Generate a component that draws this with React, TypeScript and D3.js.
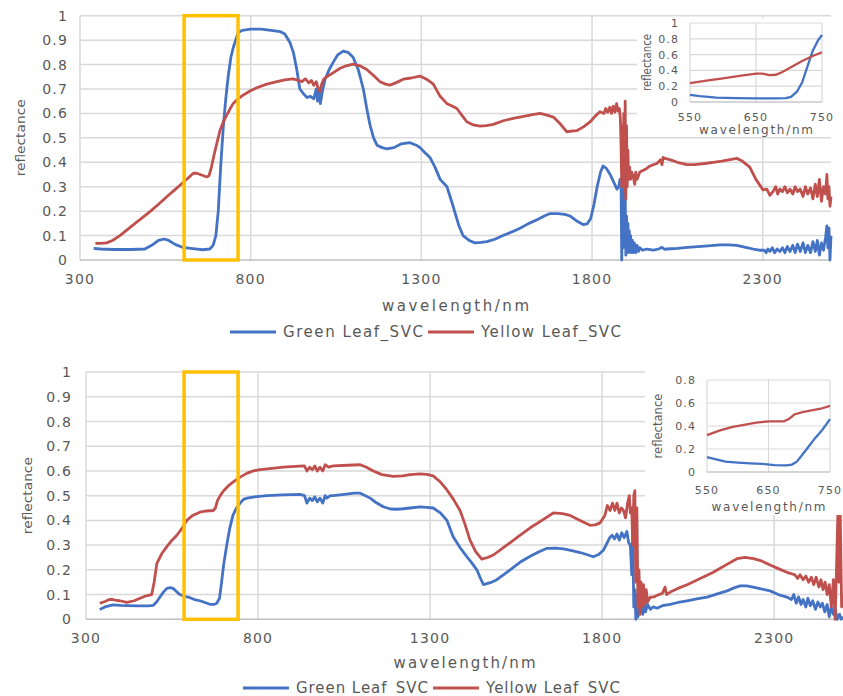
import React, { useEffect, useRef } from "react";
import * as d3 from "d3";

type Pt = [number, number];

// ---- data: [wavelength nm, reflectance] ----
const topGreen: Pt[] = [
  [340,0.048],[360,0.045],[400,0.043],[450,0.043],[490,0.045],[510,0.06],[530,0.08],[546,0.086],[560,0.08],[580,0.063],
  [600,0.052],[630,0.047],[660,0.042],[680,0.045],[690,0.06],[698,0.1],[705,0.2],[712,0.38],[720,0.55],[727,0.66],
  [734,0.75],[742,0.83],[749,0.87],[756,0.9],[763,0.93],[775,0.94],[800,0.945],[830,0.945],[860,0.94],[886,0.935],
  [900,0.925],[915,0.89],[925,0.85],[935,0.78],[944,0.7],[955,0.68],[965,0.665],[975,0.67],[985,0.66],[992,0.7],
  [996,0.65],[1000,0.7],[1004,0.64],[1010,0.69],[1018,0.74],[1030,0.78],[1042,0.81],[1055,0.84],[1071,0.855],[1085,0.85],
  [1100,0.83],[1115,0.78],[1130,0.7],[1140,0.62],[1150,0.55],[1160,0.5],[1170,0.47],[1185,0.46],[1199,0.455],[1220,0.46],
  [1240,0.475],[1267,0.48],[1285,0.47],[1296,0.46],[1310,0.44],[1325,0.42],[1340,0.38],[1355,0.33],[1375,0.3],[1393,0.22],
  [1410,0.14],[1422,0.1],[1440,0.08],[1457,0.07],[1475,0.072],[1492,0.075],[1515,0.085],[1539,0.1],[1565,0.115],[1589,0.13],
  [1615,0.15],[1639,0.165],[1660,0.18],[1677,0.19],[1700,0.19],[1720,0.187],[1736,0.18],[1755,0.16],[1774,0.145],[1786,0.148],
  [1796,0.17],[1806,0.23],[1815,0.3],[1825,0.36],[1832,0.385],[1842,0.375],[1853,0.35],[1863,0.32],[1873,0.29],[1878,0.3],
  [1882,0.33],[1885,0.31],[1887,0.0],[1889,0.2],[1891,0.05],[1893,0.35],[1895,0.1],[1897,0.28],[1899,0.02],[1901,0.18],
  [1903,0.04],[1905,0.15],[1907,0.03],[1909,0.12],[1911,0.04],[1913,0.1],[1915,0.03],[1918,0.08],[1921,0.03],[1924,0.07],
  [1928,0.03],[1932,0.06],[1936,0.035],[1940,0.05],[1948,0.04],[1960,0.045],[1980,0.04],[1995,0.045],[2005,0.052],[2012,0.044],
  [2030,0.046],[2050,0.048],[2080,0.052],[2110,0.055],[2140,0.058],[2175,0.062],[2200,0.062],[2224,0.06],[2250,0.052],[2272,0.045],
  [2290,0.04],[2305,0.04],[2310,0.03],[2315,0.045],[2321,0.035],[2328,0.05],[2335,0.03],[2342,0.045],[2350,0.035],[2358,0.05],
  [2365,0.03],[2372,0.055],[2380,0.035],[2388,0.06],[2395,0.03],[2402,0.065],[2410,0.035],[2418,0.07],[2425,0.03],[2432,0.06],
  [2440,0.03],[2447,0.075],[2454,0.035],[2460,0.08],[2466,0.02],[2472,0.07],[2478,0.04],[2484,0.09],[2488,0.14],[2491,0.05],
  [2494,0.13],[2497,0.0],[2500,0.1],
];

const topYellow: Pt[] = [
  [345,0.068],[360,0.068],[378,0.07],[395,0.08],[417,0.1],[435,0.12],[455,0.143],[480,0.17],[505,0.198],[530,0.228],
  [555,0.26],[580,0.29],[602,0.317],[620,0.34],[632,0.355],[642,0.355],[652,0.35],[662,0.345],[671,0.34],[678,0.345],
  [685,0.38],[696,0.45],[703,0.49],[710,0.53],[720,0.565],[730,0.593],[740,0.62],[749,0.641],[763,0.66],[778,0.675],
  [798,0.692],[818,0.705],[847,0.72],[877,0.73],[900,0.737],[924,0.741],[940,0.735],[950,0.73],[960,0.742],[970,0.725],
  [978,0.735],[985,0.715],[992,0.73],[998,0.7],[1003,0.69],[1008,0.72],[1014,0.74],[1023,0.75],[1040,0.765],[1062,0.785],
  [1080,0.795],[1100,0.802],[1120,0.795],[1140,0.78],[1160,0.755],[1179,0.73],[1195,0.72],[1208,0.716],[1225,0.725],[1247,0.74],
  [1270,0.745],[1296,0.753],[1315,0.74],[1335,0.72],[1355,0.67],[1375,0.64],[1390,0.63],[1404,0.62],[1420,0.59],[1433,0.566],
  [1452,0.553],[1472,0.548],[1490,0.55],[1511,0.555],[1540,0.57],[1569,0.58],[1600,0.588],[1625,0.595],[1648,0.6],[1668,0.593],
  [1687,0.585],[1705,0.56],[1726,0.525],[1740,0.528],[1756,0.53],[1775,0.545],[1794,0.565],[1810,0.59],[1823,0.607],[1835,0.6],
  [1840,0.62],[1846,0.605],[1852,0.625],[1857,0.6],[1862,0.63],[1867,0.605],[1872,0.64],[1876,0.61],[1880,0.62],[1883,0.58],
  [1885,0.47],[1887,0.3],[1889,0.55],[1891,0.33],[1893,0.6],[1895,0.28],[1897,0.65],[1899,0.25],[1901,0.55],[1903,0.3],
  [1905,0.45],[1907,0.33],[1910,0.38],[1913,0.33],[1916,0.36],[1921,0.34],[1925,0.31],[1928,0.36],[1932,0.33],[1940,0.36],
  [1955,0.37],[1970,0.385],[1979,0.39],[1990,0.395],[2000,0.41],[2005,0.39],[2008,0.42],[2013,0.416],[2030,0.41],[2050,0.4],
  [2078,0.39],[2100,0.39],[2130,0.395],[2155,0.4],[2180,0.405],[2200,0.41],[2224,0.416],[2240,0.405],[2262,0.38],[2280,0.33],
  [2301,0.287],[2312,0.29],[2321,0.265],[2330,0.28],[2338,0.3],[2344,0.27],[2350,0.29],[2358,0.28],[2365,0.3],[2372,0.275],
  [2380,0.29],[2388,0.27],[2395,0.3],[2402,0.28],[2410,0.29],[2418,0.26],[2425,0.3],[2432,0.27],[2440,0.295],[2447,0.25],
  [2454,0.31],[2460,0.26],[2466,0.33],[2472,0.24],[2478,0.3],[2484,0.27],[2488,0.35],[2491,0.25],[2494,0.3],[2497,0.22],
  [2500,0.26],
];

const bottomGreen: Pt[] = [
  [340,0.04],[355,0.05],[378,0.058],[400,0.056],[419,0.055],[450,0.054],[480,0.054],[495,0.056],[505,0.07],[515,0.09],
  [525,0.11],[535,0.125],[545,0.128],[553,0.125],[563,0.112],[573,0.1],[585,0.093],[597,0.09],[615,0.08],[631,0.075],
  [650,0.066],[662,0.06],[672,0.06],[680,0.065],[688,0.085],[694,0.15],[700,0.22],[709,0.3],[718,0.37],[727,0.42],
  [737,0.45],[748,0.47],[758,0.485],[768,0.49],[790,0.495],[826,0.5],[870,0.503],[922,0.505],[935,0.5],[942,0.47],
  [950,0.49],[958,0.48],[965,0.495],[972,0.475],[980,0.49],[988,0.47],[995,0.5],[1000,0.49],[1010,0.5],[1019,0.5],
  [1050,0.505],[1080,0.51],[1097,0.51],[1112,0.5],[1126,0.49],[1145,0.47],[1164,0.455],[1185,0.446],[1203,0.445],[1222,0.447],
  [1242,0.45],[1271,0.455],[1290,0.453],[1309,0.45],[1330,0.43],[1349,0.4],[1367,0.334],[1387,0.29],[1407,0.253],[1420,0.23],
  [1436,0.2],[1445,0.17],[1455,0.14],[1475,0.148],[1494,0.16],[1518,0.185],[1542,0.21],[1566,0.235],[1591,0.255],[1615,0.272],
  [1640,0.287],[1665,0.288],[1688,0.285],[1712,0.278],[1736,0.27],[1755,0.262],[1774,0.253],[1790,0.262],[1804,0.28],[1815,0.31],
  [1822,0.33],[1829,0.34],[1836,0.325],[1843,0.345],[1850,0.32],[1857,0.35],[1864,0.33],[1872,0.355],[1877,0.31],[1882,0.3],
  [1886,0.18],[1889,0.35],[1892,0.05],[1895,0.12],[1898,0.0],[1901,0.1],[1904,0.01],[1907,0.08],[1910,0.03],[1914,0.09],
  [1918,0.02],[1922,0.07],[1926,0.03],[1932,0.06],[1940,0.04],[1948,0.05],[1960,0.045],[1975,0.055],[1998,0.06],[2020,0.068],
  [2047,0.075],[2075,0.083],[2105,0.09],[2135,0.103],[2163,0.115],[2185,0.128],[2201,0.135],[2220,0.135],[2239,0.13],[2265,0.122],
  [2288,0.115],[2312,0.1],[2337,0.09],[2350,0.08],[2357,0.1],[2364,0.065],[2371,0.09],[2378,0.06],[2384,0.08],[2392,0.05],
  [2398,0.085],[2405,0.055],[2412,0.075],[2420,0.04],[2427,0.07],[2434,0.05],[2440,0.065],[2447,0.03],[2454,0.06],[2460,0.01],
  [2466,0.05],[2472,0.02],[2478,0.04],[2483,0.0],[2490,0.02],[2495,0.0],[2500,0.01],
];

const bottomYellow: Pt[] = [
  [340,0.065],[355,0.072],[368,0.08],[378,0.08],[390,0.076],[398,0.075],[419,0.068],[440,0.075],[457,0.085],[475,0.095],
  [491,0.1],[498,0.15],[506,0.226],[520,0.265],[535,0.294],[550,0.32],[564,0.34],[580,0.37],[593,0.4],[610,0.42],
  [631,0.433],[650,0.438],[670,0.44],[676,0.45],[682,0.48],[690,0.5],[700,0.52],[714,0.54],[728,0.556],[748,0.575],
  [767,0.59],[786,0.6],[806,0.605],[840,0.61],[874,0.615],[908,0.618],[935,0.62],[942,0.6],[950,0.615],[958,0.605],
  [965,0.62],[972,0.6],[980,0.615],[988,0.6],[995,0.625],[1005,0.615],[1019,0.62],[1060,0.623],[1097,0.625],[1115,0.615],
  [1135,0.6],[1160,0.585],[1193,0.578],[1220,0.58],[1242,0.585],[1271,0.588],[1290,0.586],[1309,0.58],[1330,0.555],[1349,0.523],
  [1368,0.485],[1387,0.44],[1400,0.39],[1416,0.32],[1432,0.275],[1450,0.243],[1467,0.25],[1484,0.26],[1508,0.285],[1533,0.31],
  [1562,0.34],[1591,0.37],[1625,0.4],[1658,0.43],[1685,0.427],[1707,0.42],[1736,0.4],[1765,0.38],[1780,0.382],[1794,0.39],
  [1808,0.42],[1815,0.46],[1823,0.44],[1830,0.47],[1837,0.44],[1843,0.47],[1850,0.43],[1856,0.45],[1862,0.44],[1868,0.41],
  [1874,0.47],[1879,0.5],[1882,0.43],[1886,0.45],[1889,0.3],[1892,0.5],[1895,0.52],[1898,0.15],[1901,0.45],[1904,0.05],
  [1907,0.2],[1910,0.02],[1913,0.15],[1916,0.05],[1920,0.14],[1924,0.06],[1928,0.12],[1932,0.07],[1940,0.09],[1950,0.09],
  [1965,0.1],[1975,0.105],[1983,0.13],[1987,0.1],[1998,0.11],[2020,0.125],[2047,0.14],[2085,0.165],[2123,0.19],[2160,0.22],
  [2192,0.245],[2215,0.25],[2240,0.245],[2265,0.235],[2288,0.22],[2312,0.205],[2337,0.19],[2360,0.18],[2368,0.165],[2375,0.18],
  [2384,0.16],[2392,0.175],[2400,0.15],[2408,0.17],[2415,0.14],[2422,0.17],[2430,0.13],[2436,0.16],[2442,0.12],[2448,0.15],
  [2454,0.1],[2460,0.14],[2466,0.05],[2472,0.16],[2477,0.0],[2481,0.2],[2485,0.42],[2488,0.15],[2492,0.43],[2496,0.05],
  [2500,0.1],
];

// zoomed-in 550-750 nm insets
const topInsetGreen: Pt[] = [
  [550,0.09],[565,0.075],[590,0.055],[620,0.048],[650,0.045],[680,0.045],[695,0.05],[703,0.065],[712,0.13],[720,0.25],
  [728,0.45],[736,0.65],[744,0.78],[750,0.85],
];
const topInsetYellow: Pt[] = [
  [550,0.24],[575,0.27],[600,0.3],[625,0.33],[650,0.36],[660,0.36],[670,0.34],[680,0.345],[690,0.38],[705,0.45],
  [720,0.52],[735,0.58],[750,0.63],
];
const bottomInsetGreen: Pt[] = [
  [550,0.13],[565,0.11],[580,0.09],[600,0.082],[620,0.075],[640,0.07],[660,0.06],[680,0.058],[688,0.065],[696,0.09],
  [705,0.15],[715,0.22],[725,0.29],[738,0.37],[750,0.46],
];
const bottomInsetYellow: Pt[] = [
  [550,0.32],[570,0.36],[590,0.39],[610,0.41],[630,0.43],[650,0.44],[675,0.44],[683,0.46],[692,0.5],[705,0.52],
  [720,0.535],[735,0.55],[750,0.575],
];

const xTicks = [300, 800, 1300, 1800, 2300];
const yTicks = [0, 0.1, 0.2, 0.3, 0.4, 0.5, 0.6, 0.7, 0.8, 0.9, 1];
const insetXTicks = [550, 650, 750];
const topInsetYTicks = [0, 0.2, 0.4, 0.6, 0.8, 1];
const bottomInsetYTicks = [0, 0.2, 0.4, 0.6, 0.8];
const seriesNames = ["Green Leaf_SVC", "Yellow Leaf_SVC"];
const topHighlight = [605, 763];
const bottomHighlight = [585, 742];

const BLUE = "#4472c4";
const RED = "#c0504d";
const GOLD = "#ffc000";
const GRID = "#d9d9d9";
const TEXT = "#595959";
const FONT = "'DejaVu Sans', Verdana, sans-serif";

function drawPanel(root: any, p: any) {
  const x = d3.scaleLinear().domain([300, 2500]).range([p.left, p.right]);
  const y = d3.scaleLinear().domain([0, 1]).range([p.bottom, p.top]);
  const g = root.append("g");

  // gridlines
  g.selectAll(".hg").data(yTicks.filter((v) => v > 0)).join("line")
    .attr("x1", p.left).attr("x2", p.right)
    .attr("y1", (d: number) => y(d)).attr("y2", (d: number) => y(d))
    .attr("stroke", GRID).attr("stroke-width", 1.5);
  g.selectAll(".vg").data(xTicks).join("line")
    .attr("x1", (d: number) => x(d)).attr("x2", (d: number) => x(d))
    .attr("y1", y(0)).attr("y2", y(1))
    .attr("stroke", GRID).attr("stroke-width", 1.5);
  g.append("line").attr("x1", p.left).attr("x2", p.right).attr("y1", y(0)).attr("y2", y(0))
    .attr("stroke", "#bfbfbf").attr("stroke-width", 1.5);

  // tick labels
  g.selectAll(".yl").data(yTicks).join("text")
    .attr("x", p.left - p.yTickGap).attr("y", (d: number) => y(d)).attr("dy", "0.36em")
    .attr("text-anchor", "end").attr("font-size", 14).attr("letter-spacing", 1.2)
    .attr("font-family", FONT).attr("fill", TEXT)
    .text((d: number) => String(+d.toFixed(1)));
  g.selectAll(".xl").data(xTicks).join("text")
    .attr("x", (d: number) => x(d)).attr("y", p.xTickY)
    .attr("text-anchor", "middle").attr("font-size", 14).attr("letter-spacing", 1.2)
    .attr("font-family", FONT).attr("fill", TEXT)
    .text((d: number) => d);

  // spectra
  const line = d3.line<Pt>().x((d) => x(d[0])).y((d) => y(d[1]));
  p.series.forEach((s: Pt[], i: number) => {
    g.append("path").attr("d", line(s)).attr("fill", "none")
      .attr("stroke", i === 0 ? BLUE : RED).attr("stroke-width", 2.8)
      .attr("stroke-linejoin", "round");
  });

  // highlighted band
  g.append("rect")
    .attr("x", x(p.highlight[0])).attr("y", y(1))
    .attr("width", x(p.highlight[1]) - x(p.highlight[0])).attr("height", y(0) - y(1))
    .attr("fill", "none").attr("stroke", GOLD).attr("stroke-width", 3.5);

  // axis titles
  g.append("text")
    .attr("transform", `translate(${p.yLabelX},${(y(0) + y(1)) / 2}) rotate(-90)`)
    .attr("dy", "0.35em").attr("text-anchor", "middle")
    .attr("font-size", 13).attr("font-family", FONT).attr("fill", TEXT)
    .attr("textLength", 77).attr("lengthAdjust", "spacingAndGlyphs")
    .text("reflectance");
  g.append("text")
    .attr("x", (p.left + p.right) / 2).attr("y", p.titleY).attr("text-anchor", "middle")
    .attr("font-size", 15).attr("font-family", FONT).attr("fill", TEXT)
    .attr("textLength", p.titleLen).attr("lengthAdjust", "spacing")
    .text("wavelength/nm");

  // legend
  seriesNames.forEach((name, i) => {
    const lx = p.legendX[i];
    g.append("line").attr("x1", lx).attr("x2", lx + 46)
      .attr("y1", p.legendY).attr("y2", p.legendY)
      .attr("stroke", i === 0 ? BLUE : RED).attr("stroke-width", 3);
    g.append("text").attr("x", lx + 53).attr("y", p.legendY).attr("dy", "0.36em")
      .attr("font-size", 15).attr("font-family", FONT).attr("fill", TEXT)
      .attr("textLength", p.legendLen[i]).attr("lengthAdjust", "spacing")
      .text(name);
  });

  drawInset(g, p.inset);
}

function drawInset(root: any, q: any) {
  const x = d3.scaleLinear().domain([550, 750]).range([q.left, q.right]);
  const y = d3.scaleLinear().domain([0, q.yMax]).range([q.bottom, q.top]);
  const g = root.append("g");

  g.append("rect").attr("x", q.box[0]).attr("y", q.box[1])
    .attr("width", q.box[2] - q.box[0]).attr("height", q.box[3] - q.box[1])
    .attr("fill", "#fff");

  g.selectAll(".hg").data(q.yTicks).join("line")
    .attr("x1", q.left).attr("x2", q.right)
    .attr("y1", (d: number) => y(d)).attr("y2", (d: number) => y(d))
    .attr("stroke", GRID).attr("stroke-width", 1.2);
  g.selectAll(".vg").data(insetXTicks).join("line")
    .attr("x1", (d: number) => x(d)).attr("x2", (d: number) => x(d))
    .attr("y1", y(0)).attr("y2", y(q.yMax))
    .attr("stroke", GRID).attr("stroke-width", 1.2);
  g.append("line").attr("x1", q.left).attr("x2", q.right).attr("y1", y(0)).attr("y2", y(0))
    .attr("stroke", "#bfbfbf").attr("stroke-width", 1.2);

  g.selectAll(".yl").data(q.yTicks).join("text")
    .attr("x", q.left - 11).attr("y", (d: number) => y(d)).attr("dy", "0.36em")
    .attr("text-anchor", "end").attr("font-size", 11).attr("letter-spacing", 1.1)
    .attr("font-family", FONT).attr("fill", TEXT)
    .text((d: number) => String(+d.toFixed(1)));
  g.selectAll(".xl").data(insetXTicks).join("text")
    .attr("x", (d: number) => x(d)).attr("y", q.xTickY)
    .attr("text-anchor", "middle").attr("font-size", 11).attr("letter-spacing", 1.1)
    .attr("font-family", FONT).attr("fill", TEXT)
    .text((d: number) => d);

  const line = d3.line<Pt>().x((d) => x(d[0])).y((d) => y(d[1]));
  q.series.forEach((s: Pt[], i: number) => {
    g.append("path").attr("d", line(s)).attr("fill", "none")
      .attr("stroke", i === 0 ? BLUE : RED).attr("stroke-width", 2.3);
  });

  g.append("text")
    .attr("transform", `translate(${q.yLabelX},${(y(0) + y(q.yMax)) / 2}) rotate(-90)`)
    .attr("dy", "0.35em").attr("text-anchor", "middle")
    .attr("font-size", 12).attr("font-family", FONT).attr("fill", TEXT)
    .attr("textLength", q.yLabelLen).attr("lengthAdjust", "spacingAndGlyphs")
    .text("reflectance");
  g.append("text")
    .attr("x", (q.left + q.right) / 2).attr("y", q.titleY).attr("text-anchor", "middle")
    .attr("font-size", 12).attr("font-family", FONT).attr("fill", TEXT)
    .attr("textLength", 114).attr("lengthAdjust", "spacing")
    .text("wavelength/nm");
}

const App = () => {
  const svgRef = useRef<SVGSVGElement>(null);

  useEffect(() => {
    const svg = d3.select(svgRef.current);
    svg.selectAll("*").remove();

    drawPanel(svg, {
      left: 80, right: 831, top: 15.7, bottom: 260,
      yTickGap: 12, xTickY: 284, titleY: 311, yLabelX: 20,
      legendY: 332, legendX: [230, 428], legendLen: [140, 140], titleLen: 147,
      highlight: topHighlight,
      series: [topGreen, topYellow],
      inset: {
        box: [637, 18, 834, 136], left: 690, right: 822, top: 23, bottom: 102, yMax: 1,
        yTicks: topInsetYTicks, xTickY: 121, titleY: 134, yLabelX: 647, yLabelLen: 57,
        series: [topInsetGreen, topInsetYellow],
      },
    });

    drawPanel(svg, {
      left: 86, right: 843, top: 372, bottom: 619.3,
      yTickGap: 14, xTickY: 643, titleY: 668, yLabelX: 27,
      legendY: 688, legendX: [243, 433], legendLen: [132, 134], titleLen: 142,
      highlight: bottomHighlight,
      series: [bottomGreen, bottomYellow],
      inset: {
        box: [645, 362, 843, 515], left: 707, right: 830, top: 380, bottom: 472, yMax: 0.8,
        yTicks: bottomInsetYTicks, xTickY: 494, titleY: 511, yLabelX: 658, yLabelLen: 65,
        series: [bottomInsetGreen, bottomInsetYellow],
      },
    });

    return () => {
      svg.selectAll("*").remove();
    };
  }, []);

  return (
    <svg
      ref={svgRef}
      width={843}
      height={696}
      style={{ position: "absolute", left: 0, top: 0, background: "#fff" }}
    />
  );
};

export default App;
